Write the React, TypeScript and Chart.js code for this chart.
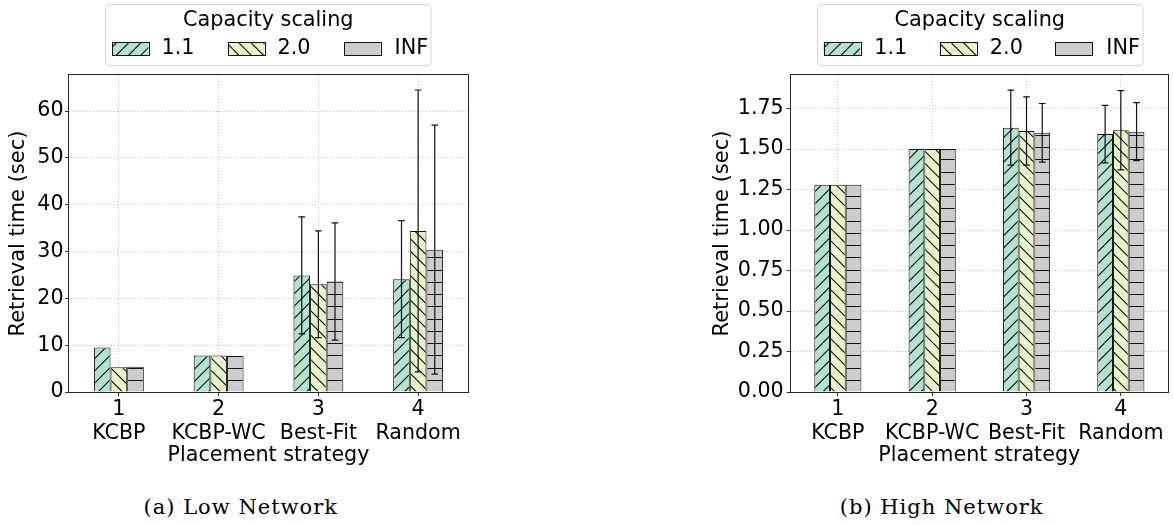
import React, { useEffect, useRef } from 'react';
import { Chart, registerables } from 'chart.js';

Chart.register(...registerables);

// ---------- data ----------
const tickNumbers = ['1', '2', '3', '4'];
const strategies = ['KCBP', 'KCBP-WC', 'Best-Fit', 'Random'];
const seriesLabels = ['1.1', '2.0', 'INF'];
const seriesColors = ['#b3e2cd', '#e6f5c9', '#cccccc'];
const seriesHatches = ['/', '\\', '-'];

// (a) Low Network
const lowMean11 = [9.5, 7.8, 24.9, 24.1];
const lowMean20 = [5.3, 7.8, 23.0, 34.4];
const lowMeanInf = [5.4, 7.7, 23.6, 30.4];
const lowErr11 = [0, 0, 12.5, 12.5];
const lowErr20 = [0, 0, 11.4, 30.1];
const lowErrInf = [0, 0, 12.5, 26.6];
const lowYTicks = [0, 10, 20, 30, 40, 50, 60];
const lowYMax = 67.7;

// (b) High Network
const highMean11 = [1.28, 1.5, 1.632, 1.592];
const highMean20 = [1.28, 1.5, 1.611, 1.616];
const highMeanInf = [1.28, 1.5, 1.6, 1.607];
const highErr11 = [0, 0, 0.232, 0.177];
const highErr20 = [0, 0, 0.211, 0.245];
const highErrInf = [0, 0, 0.181, 0.179];
const highYTicks = [0, 0.25, 0.5, 0.75, 1.0, 1.25, 1.5, 1.75];
const highYMax = 1.957;

const FONT = '"DejaVu Sans", "Noto Sans", sans-serif';

function makeHatch(color: string, kind: string): CanvasPattern {
  const T = 49;
  const n = 4;
  const s = T / n;
  const c = document.createElement('canvas');
  c.width = T;
  c.height = T;
  const g = c.getContext('2d')!;
  g.fillStyle = color;
  g.fillRect(0, 0, T, T);
  g.strokeStyle = '#111';
  g.lineWidth = 1.1;
  g.beginPath();
  if (kind === '-') {
    for (let k = 0; k < n; k++) {
      const yy = Math.round(k * s) + 0.5;
      g.moveTo(0, yy);
      g.lineTo(T, yy);
    }
  } else {
    for (let k = -n; k <= 2 * n; k++) {
      const c0 = k * s;
      if (kind === '/') {
        g.moveTo(c0, 0);
        g.lineTo(c0 - T, T);
      } else {
        g.moveTo(c0, 0);
        g.lineTo(c0 + T, T);
      }
    }
  }
  g.stroke();
  return g.createPattern(c, 'repeat')!;
}

const errorBarPlugin = {
  id: 'errorBars',
  afterDatasetsDraw(chart: any) {
    const { ctx } = chart;
    const y = chart.scales.y;
    ctx.save();
    ctx.strokeStyle = '#111';
    ctx.lineWidth = 1.2;
    chart.data.datasets.forEach((ds: any, i: number) => {
      const meta = chart.getDatasetMeta(i);
      meta.data.forEach((bar: any, j: number) => {
        const e = ds.errors[j];
        if (!e) return;
        const v = ds.data[j];
        const yt = y.getPixelForValue(v + e);
        const yb = y.getPixelForValue(v - e);
        const x = bar.x;
        const cap = 3.3;
        ctx.beginPath();
        ctx.moveTo(x, yt);
        ctx.lineTo(x, yb);
        ctx.moveTo(x - cap, yt);
        ctx.lineTo(x + cap, yt);
        ctx.moveTo(x - cap, yb);
        ctx.lineTo(x + cap, yb);
        ctx.stroke();
      });
    });
    ctx.restore();
  },
};

const framePlugin = {
  id: 'frame',
  afterDatasetsDraw(chart: any) {
    const { ctx, chartArea: a } = chart;
    ctx.save();
    ctx.strokeStyle = '#262626';
    ctx.lineWidth = 1;
    ctx.strokeRect(Math.round(a.left) - 0.5, Math.round(a.top) - 0.5, Math.round(a.right - a.left) + 1, Math.round(a.bottom - a.top) + 1);
    ctx.restore();
  },
};

const legendPlugin = {
  id: 'hatchLegend',
  afterDraw(chart: any, _args: any, opts: any) {
    const { ctx } = chart;
    ctx.save();
    ctx.fillStyle = '#ffffff';
    ctx.strokeStyle = '#d6d6d6';
    ctx.lineWidth = 1;
    ctx.beginPath();
    ctx.roundRect(opts.box.x, opts.box.y, opts.box.w, opts.box.h, 4);
    ctx.fill();
    ctx.stroke();
    ctx.fillStyle = '#000';
    ctx.font = `${opts.size}px ${FONT}`;
    ctx.textAlign = 'center';
    ctx.textBaseline = 'middle';
    ctx.fillText(opts.title, opts.titleX, opts.titleY);
    ctx.textAlign = 'left';
    chart.data.datasets.forEach((ds: any, i: number) => {
      const px = opts.patchX[i];
      ctx.fillStyle = seriesHatches[i] === '-' ? seriesColors[i] : ds.backgroundColor;
      ctx.fillRect(px, opts.patchY, opts.patchW, opts.patchH);
      ctx.strokeStyle = '#111';
      ctx.lineWidth = 1;
      ctx.strokeRect(Math.round(px) + 0.5, Math.round(opts.patchY) + 0.5, Math.round(opts.patchW), Math.round(opts.patchH));
      ctx.fillStyle = '#000';
      ctx.fillText(ds.label, opts.labelX[i], opts.labelY);
    });
    ctx.restore();
  },
};

function buildConfig(p: any, patterns: CanvasPattern[]) {
  const means = [p.m11, p.m20, p.mInf];
  const errs = [p.e11, p.e20, p.eInf];
  return {
    type: 'bar',
    data: {
      labels: tickNumbers.map((t, i) => [t, strategies[i]]),
      datasets: seriesLabels.map((lab, i) => ({
        label: lab,
        data: means[i],
        errors: errs[i],
        backgroundColor: patterns[i],
        borderColor: '#111',
        borderWidth: 1,
        barPercentage: 1,
        categoryPercentage: 0.5,
      })),
    },
    options: {
      responsive: false,
      maintainAspectRatio: false,
      animation: false,
      devicePixelRatio: 1,
      layout: { padding: { top: p.padTop, right: p.padRight, left: 0, bottom: 0 } },
      plugins: {
        legend: { display: false },
        tooltip: { enabled: false },
        hatchLegend: p.legend,
      },
      scales: {
        x: {
          type: 'category',
          offset: true,
          grid: {
            offset: false,
            color: '#b8b8b8',
            lineWidth: 0.9,
            drawTicks: true,
            tickLength: 4,
            tickColor: '#333',
            tickWidth: 1,
            tickBorderDash: [],
          },
          border: { display: false, dash: [1, 2] },
          ticks: {
            color: '#000',
            font: { family: FONT, size: 20.6 },
            padding: 1,
            maxRotation: 0,
            autoSkip: false,
          },
          title: {
            display: true,
            text: 'Placement strategy',
            color: '#000',
            font: { family: FONT, size: 20.7 },
            padding: { top: 0, bottom: 12.2 },
          },
          afterFit: (s: any) => {
            s.height = p.xHeight;
          },
        },
        y: {
          type: 'linear',
          min: 0,
          max: p.yMax,
          afterBuildTicks: (axis: any) => {
            axis.ticks = p.yTicks.map((v: number) => ({ value: v }));
          },
          grid: {
            color: '#b8b8b8',
            lineWidth: 0.9,
            drawTicks: true,
            tickLength: 4,
            tickColor: '#333',
            tickWidth: 1,
            tickBorderDash: [],
          },
          border: { display: false, dash: [1, 2] },
          ticks: {
            color: '#000',
            font: { family: FONT, size: p.yTickSize },
            padding: p.yTickPad,
            callback: (v: number) => p.fmt(v),
          },
          title: {
            display: true,
            text: 'Retrieval time (sec)',
            color: '#000',
            font: { family: FONT, size: p.yTitleSize },
            padding: { top: p.yTitlePad, bottom: 0 },
          },
          afterFit: (s: any) => {
            s.width = p.yWidth;
          },
        },
      },
    },
    plugins: [errorBarPlugin, framePlugin, legendPlugin],
  };
}

const lowParams = {
  m11: lowMean11, m20: lowMean20, mInf: lowMeanInf,
  e11: lowErr11, e20: lowErr20, eInf: lowErrInf,
  yTicks: lowYTicks, yMax: lowYMax,
  fmt: (v: number) => String(v),
  padTop: 75, padRight: 122, xHeight: 88, yWidth: 69,
  yTickSize: 20.6, yTickPad: 1.5, yTitleSize: 21, yTitlePad: 6.4,
  legend: {
    box: { x: 105.5, y: 4.5, w: 325.5, h: 61 },
    title: 'Capacity scaling', titleX: 268.3, titleY: 20.8, size: 20.8,
    patchX: [112, 228, 344], patchW: 36.5, patchY: 42.3, patchH: 13.4,
    labelX: [161.5, 277.5, 394.5], labelY: 48.5,
  },
};

const highParams = {
  m11: highMean11, m20: highMean20, mInf: highMeanInf,
  e11: highErr11, e20: highErr20, eInf: highErrInf,
  yTicks: highYTicks, yMax: highYMax,
  fmt: (v: number) => v.toFixed(2),
  padTop: 75, padRight: 5, xHeight: 88, yWidth: 200.7,
  yTickSize: 20.6, yTickPad: 3, yTitleSize: 21, yTitlePad: 119.5,
  legend: {
    box: { x: 227.5, y: 4.5, w: 325.5, h: 61 },
    title: 'Capacity scaling', titleX: 389.8, titleY: 20.8, size: 20.8,
    patchX: [233.7, 349.7, 465.3], patchW: 36.5, patchY: 42.3, patchH: 13.4,
    labelX: [284.2, 399.8, 516.3], labelY: 48.5,
  },
};

function ChartPanel({ left, width, height, params }: any) {
  const ref = useRef<HTMLCanvasElement | null>(null);
  useEffect(() => {
    const canvas = ref.current!;
    const patterns = seriesColors.map((c, i) => makeHatch(c, seriesHatches[i]));
    const chart = new Chart(canvas, buildConfig(params, patterns) as any);
    return () => chart.destroy();
  }, []);
  return (
    <canvas
      ref={ref}
      width={width}
      height={height}
      style={{ position: 'absolute', left, top: 0, width, height }}
    />
  );
}

const captionStyle: React.CSSProperties = {
  position: 'absolute',
  top: 491.7,
  width: 400,
  height: 30,
  lineHeight: '30px',
  textAlign: 'center',
  fontFamily: '"DejaVu Serif", "Liberation Serif", serif',
  fontSize: 21,
  letterSpacing: '1px',
  color: '#000',
  whiteSpace: 'nowrap',
};

export default function App() {
  return (
    <div style={{ position: 'absolute', left: 0, top: 0, width: 1173, height: 525, background: '#fff', overflow: 'hidden' }}>
      <ChartPanel left={0} width={590} height={480} params={lowParams} />
      <ChartPanel left={590} width={583} height={480} params={highParams} />
      <div style={{ ...captionStyle, left: 240.8 - 200 }}>(a) Low Network</div>
      <div style={{ ...captionStyle, left: 941.7 - 200 }}>(b) High Network</div>
    </div>
  );
}
